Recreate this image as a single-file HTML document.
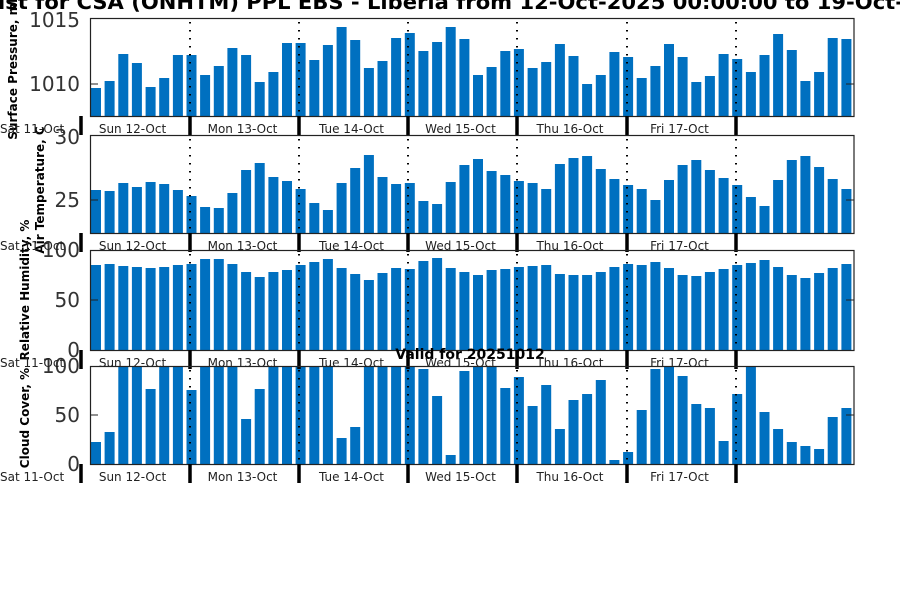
<!DOCTYPE html>
<html><head><meta charset="utf-8"><style>
html,body{margin:0;padding:0;background:#fff;width:900px;height:600px;overflow:hidden}
svg{display:block}
text{font-family:"DejaVu Sans","Liberation Sans",sans-serif}
</style></head><body>
<svg id="s" width="900" height="600" viewBox="0 0 900 600" xmlns="http://www.w3.org/2000/svg">
<g id="bars" fill="#0070c0"></g>
<g id="lines"></g>
<text x="-2" y="9" font-size="20" font-weight="bold" fill="#000" textLength="906" lengthAdjust="spacingAndGlyphs">ist for CSA (ONHTM) PPL EBS  - Liberia from 12-Oct-2025 00:00:00 to 19-Oct-</text>
<g font-size="20" fill="#333" text-anchor="end">
<text x="80" y="27">1015</text><text x="80" y="91">1010</text>
<text x="80" y="144">30</text><text x="80" y="207">25</text>
<text x="80" y="257">100</text><text x="80" y="307">50</text><text x="80" y="357">0</text>
<text x="80" y="373">100</text><text x="80" y="422">50</text><text x="80" y="471">0</text>
</g>
<g font-size="12" font-weight="bold" fill="#000" text-anchor="middle">
<text transform="translate(17,67) rotate(-90)">Surface Pressure, mb</text>
<text transform="translate(44,190) rotate(-90)">Air Temperature, C</text>
<text transform="translate(29,290) rotate(-90)">Relative Humidity, %</text>
<text transform="translate(29,418) rotate(-90)">Cloud Cover, %</text>
</g>
<text x="470" y="359" font-size="14" font-weight="bold" text-anchor="middle">Valid for 20251012</text>
<g id="dates" font-size="12" fill="#222"></g>
</svg>
<script>
var tops=[
[88,81,54,63,87,78,55,55,75,66,48,55,82,72,43,43,60,45,27,40,68,61,38,33,51,42,27,39,75,67,51,49,68,62,44,56,84,75,52,57,78,66,44,57,82,76,54,59,72,55,34,50,81,72,38,39],
[190,191,183,187,182,184,190,196,207,208,193,170,163,177,181,189,203,210,183,168,155,177,184,183,201,204,182,165,159,171,175,181,183,189,164,158,156,169,179,185,189,200,180,165,160,170,178,185,197,206,180,160,156,167,179,189],
[265,264,266,267,268,267,265,264,259,259,264,272,277,272,270,265,262,259,268,274,280,273,268,269,261,258,268,272,275,270,269,267,266,265,274,275,275,272,267,264,265,262,268,275,276,272,269,265,263,260,267,275,278,273,268,264],
[442,432,366,366,389,366,366,390,366,366,366,419,389,366,366,366,366,366,438,427,366,366,366,366,369,396,455,371,366,366,388,377,406,385,429,400,394,380,460,452,410,369,366,376,404,408,441,394,366,412,429,442,446,449,417,408]];
var panels=[[18,116],[135,233],[250,350],[366,464]];
var ticks=[[84],[200],[300],[415]];
var ns="http://www.w3.org/2000/svg";
function el(n,a,p){var e=document.createElementNS(ns,n);for(var k in a)e.setAttribute(k,a[k]);(p||document.getElementById('lines')).appendChild(e);return e;}
var bars=document.getElementById('bars');
var step=764/56;
var bounds=[190,299,408,517,627,736];
var names=["Sun 12-Oct","Mon 13-Oct","Tue 14-Oct","Wed 15-Oct","Thu 16-Oct","Fri 17-Oct"];
var dates=document.getElementById('dates');
panels.forEach(function(p,j){
  tops[j].forEach(function(t,i){
    var x=91+step*i;
    el('rect',{x:x.toFixed(1),y:t,width:10,height:p[1]-t},bars);
  });
  el('rect',{x:90.5,y:p[0]+.5,width:763.5,height:p[1]-p[0],fill:'none',stroke:'#222','stroke-width':1.2});
  ticks[j].forEach(function(y){
    el('line',{x1:90,x2:98,y1:y,y2:y,stroke:'#222'});
    el('line',{x1:846,x2:854,y1:y,y2:y,stroke:'#222'});
  });
  bounds.forEach(function(b){
    el('line',{x1:b,x2:b,y1:p[0]+4,y2:p[1],stroke:'#000','stroke-width':2,'stroke-dasharray':'1.5,6.5'});
    el('line',{x1:b,x2:b,y1:p[1],y2:p[1]+19,stroke:'#000','stroke-width':3.5});
  });
  el('line',{x1:81,x2:81,y1:p[1],y2:p[1]+19,stroke:'#000','stroke-width':3.5});
  var ty=p[1]+17;
  var t=el('text',{x:0,y:ty},dates);t.textContent="Sat 11-Oct";
  var prev=81;
  bounds.forEach(function(b,k){
    var c=(k==0?(prev+b)/2-3:(prev+b)/2-2);
    var tt=el('text',{x:c,y:ty,'text-anchor':'middle'},dates);tt.textContent=names[k];
    prev=b;
  });
});
</script>
</body></html>
